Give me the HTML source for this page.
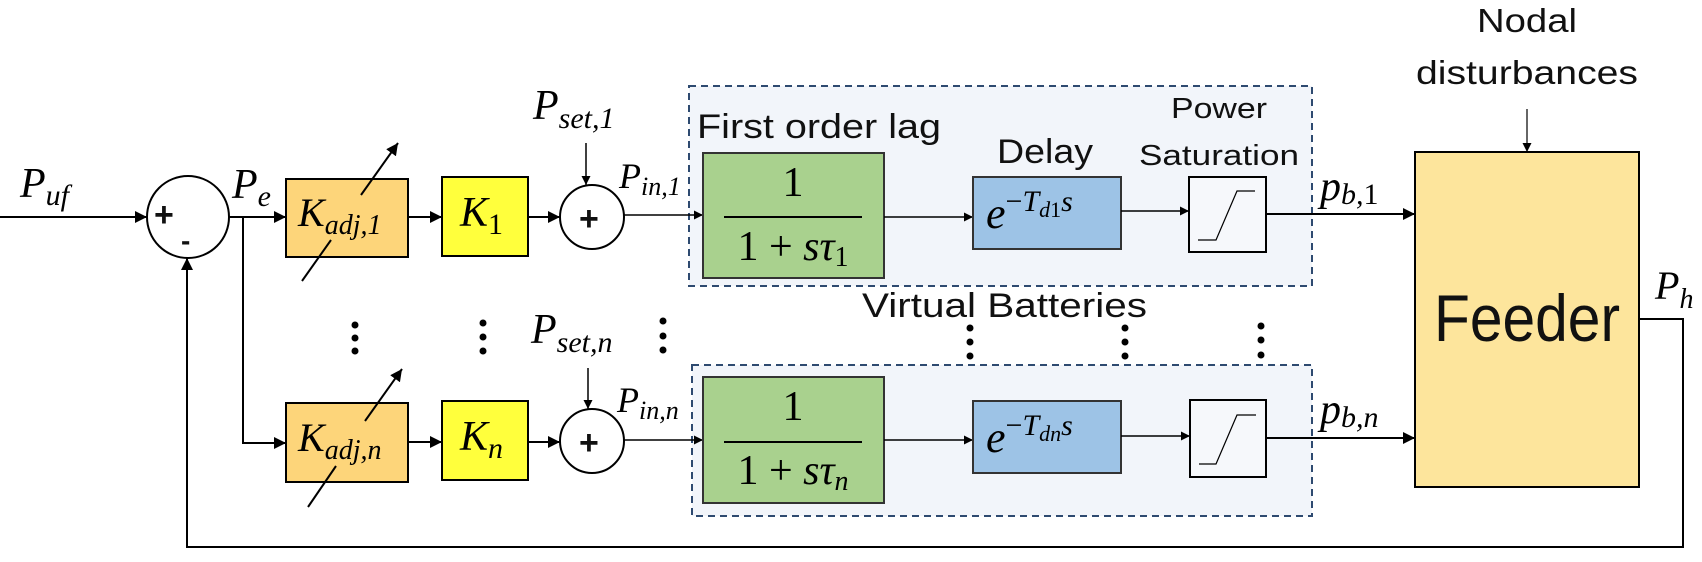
<!DOCTYPE html>
<html><head><meta charset="utf-8"><style>
html,body{margin:0;padding:0;background:#fff;}
svg{display:block;}
.m{font-family:"Liberation Serif",serif;font-style:italic;fill:#000;}
.t{font-family:"Liberation Sans",sans-serif;fill:#111;}
</style></head><body>
<svg width="1702" height="562" viewBox="0 0 1702 562" xmlns="http://www.w3.org/2000/svg">
<defs>
<marker id="a" viewBox="0 0 10 10" refX="10" refY="5" markerWidth="9" markerHeight="9" markerUnits="userSpaceOnUse" orient="auto"><path d="M0,0 L10,5 L0,10 z" fill="#000"/></marker>
<marker id="b" viewBox="0 0 10 10" refX="10" refY="5" markerWidth="12" markerHeight="12" markerUnits="userSpaceOnUse" orient="auto"><path d="M0,0 L10,5 L0,10 z" fill="#000"/></marker>
</defs>
<g stroke="#000" stroke-width="2" fill="none">
<rect x="689" y="86" width="623" height="200" fill="#f2f5fa" stroke="#2e4a70" stroke-dasharray="7,5"/>
<rect x="692" y="365" width="620" height="151" fill="#f2f5fa" stroke="#2e4a70" stroke-dasharray="7,5"/>
<line x1="0" y1="217" x2="147" y2="217" marker-end="url(#b)"/>
<ellipse cx="188" cy="217" rx="41" ry="41" fill="#fff"/>
<line x1="229" y1="217" x2="286" y2="217" marker-end="url(#b)"/>
<polyline points="243,217 243,443 286,443" marker-end="url(#b)"/>
<rect x="286" y="179" width="122" height="78" fill="#fdd57a"/>
<line x1="302" y1="281" x2="331" y2="240"/>
<line x1="361" y1="195" x2="398" y2="143" marker-end="url(#b)"/>
<line x1="408" y1="217" x2="442" y2="217" marker-end="url(#b)"/>
<rect x="442" y="177" width="86" height="79" fill="#ffff3c"/>
<line x1="528" y1="217" x2="560" y2="217" marker-end="url(#b)"/>
<circle cx="592" cy="217" r="32" fill="#fff"/>
<line x1="586" y1="143" x2="586" y2="185" stroke-width="1.5" marker-end="url(#a)"/>
<line x1="624" y1="215" x2="703" y2="215" stroke-width="1.5" marker-end="url(#a)"/>
<rect x="703" y="153" width="181" height="125" fill="#a9d18e" stroke="#333"/>
<line x1="724" y1="217" x2="862" y2="217"/>
<line x1="884" y1="217" x2="973" y2="217" stroke-width="1.5" marker-end="url(#a)"/>
<rect x="973" y="177" width="148" height="72" fill="#9dc3e6" stroke="#333"/>
<line x1="1121" y1="211" x2="1189" y2="211" stroke-width="1.5" marker-end="url(#a)"/>
<rect x="1189" y="177" width="77" height="75" fill="#f6f8fb"/>
<polyline points="1198,240 1216,240 1237,191 1255,191" stroke-width="1.2"/>
<line x1="1266" y1="214" x2="1415" y2="214" marker-end="url(#b)"/>
<rect x="286" y="403" width="122" height="79" fill="#fdd57a"/>
<line x1="308" y1="507" x2="336" y2="466"/>
<line x1="365" y1="421" x2="402" y2="369" marker-end="url(#b)"/>
<line x1="408" y1="442" x2="442" y2="442" marker-end="url(#b)"/>
<rect x="442" y="401" width="86" height="79" fill="#ffff3c"/>
<line x1="528" y1="442" x2="560" y2="442" marker-end="url(#b)"/>
<circle cx="592" cy="441" r="32" fill="#fff"/>
<line x1="588" y1="368" x2="588" y2="409" stroke-width="1.5" marker-end="url(#a)"/>
<line x1="624" y1="440" x2="703" y2="440" stroke-width="1.5" marker-end="url(#a)"/>
<rect x="703" y="377" width="181" height="126" fill="#a9d18e" stroke="#333"/>
<line x1="724" y1="442" x2="862" y2="442"/>
<line x1="884" y1="440" x2="973" y2="440" stroke-width="1.5" marker-end="url(#a)"/>
<rect x="973" y="401" width="148" height="72" fill="#9dc3e6" stroke="#333"/>
<line x1="1121" y1="436" x2="1190" y2="436" stroke-width="1.5" marker-end="url(#a)"/>
<rect x="1190" y="400" width="76" height="77" fill="#f6f8fb"/>
<polyline points="1199,464 1216,464 1237,415 1256,415" stroke-width="1.2"/>
<line x1="1266" y1="438" x2="1415" y2="438" marker-end="url(#b)"/>
<rect x="1415" y="152" width="224" height="335" fill="#fde59c"/>
<line x1="1527" y1="109" x2="1527" y2="152" stroke-width="1.2" marker-end="url(#a)"/>
<polyline points="1639,319 1683,319 1683,547 187,547 187,258" marker-end="url(#b)"/>
</g>
<g fill="#000">
<circle cx="355" cy="325" r="3.5"/><circle cx="355" cy="338" r="3.5"/><circle cx="355" cy="351" r="3.5"/>
<circle cx="483" cy="323" r="3.5"/><circle cx="483" cy="337" r="3.5"/><circle cx="483" cy="351" r="3.5"/>
<circle cx="663" cy="321" r="3.5"/><circle cx="663" cy="336" r="3.5"/><circle cx="663" cy="350" r="3.5"/>
<circle cx="970" cy="328" r="3.5"/><circle cx="970" cy="342" r="3.5"/><circle cx="970" cy="356" r="3.5"/>
<circle cx="1125" cy="328" r="3.5"/><circle cx="1125" cy="342" r="3.5"/><circle cx="1125" cy="356" r="3.5"/>
<circle cx="1261" cy="326" r="3.5"/><circle cx="1261" cy="340" r="3.5"/><circle cx="1261" cy="355" r="3.5"/>
</g>
<text class="t" x="154" y="226" font-size="34" font-weight="bold">+</text>
<text class="t" x="181" y="250" font-size="28" font-weight="bold">-</text>
<text class="t" x="579" y="230" font-size="34" font-weight="bold">+</text>
<text class="t" x="579" y="454" font-size="34" font-weight="bold">+</text>
<text class="m" x="20" y="197" font-size="42">P<tspan font-size="30" dy="8">uf</tspan></text>
<text class="m" x="232" y="198" font-size="42">P<tspan font-size="30" dy="8">e</tspan></text>
<text class="m" x="298" y="226" font-size="40">K<tspan font-size="28" dy="8">adj,1</tspan></text>
<text class="m" x="298" y="451" font-size="40">K<tspan font-size="28" dy="8">adj,n</tspan></text>
<text class="m" x="460" y="226" font-size="42">K<tspan font-size="30" dy="8" font-style="normal">1</tspan></text>
<text class="m" x="460" y="450" font-size="42">K<tspan font-size="30" dy="8">n</tspan></text>
<text class="m" x="533" y="119" font-size="42">P<tspan font-size="30" dy="9">set,1</tspan></text>
<text class="m" x="531" y="343" font-size="42">P<tspan font-size="30" dy="9">set,n</tspan></text>
<text class="m" x="619" y="188" font-size="36">P<tspan font-size="26" dy="7">in,1</tspan></text>
<text class="m" x="617" y="412" font-size="36">P<tspan font-size="26" dy="7">in,n</tspan></text>
<text class="t" x="697" y="138" font-size="34" textLength="244" lengthAdjust="spacingAndGlyphs">First order lag</text>
<text class="t" x="997" y="163" font-size="34" textLength="96" lengthAdjust="spacingAndGlyphs">Delay</text>
<text class="t" x="1219" y="118" font-size="29" text-anchor="middle" textLength="96" lengthAdjust="spacingAndGlyphs">Power</text>
<text class="t" x="1219" y="165" font-size="29" text-anchor="middle" textLength="160" lengthAdjust="spacingAndGlyphs">Saturation</text>
<text class="t" x="862" y="317" font-size="34" textLength="285" lengthAdjust="spacingAndGlyphs">Virtual Batteries</text>
<text class="t" x="1527" y="32" font-size="33" text-anchor="middle" textLength="100" lengthAdjust="spacingAndGlyphs">Nodal</text>
<text class="t" x="1527" y="84" font-size="33" text-anchor="middle" textLength="222" lengthAdjust="spacingAndGlyphs">disturbances</text>
<text class="t" x="1527" y="341" font-size="66" text-anchor="middle" textLength="186" lengthAdjust="spacingAndGlyphs">Feeder</text>
<text x="793" y="196" font-family="Liberation Serif,serif" font-size="42" text-anchor="middle">1</text>
<text x="793" y="260" font-family="Liberation Serif,serif" font-size="42" text-anchor="middle">1 + <tspan font-style="italic">sτ</tspan><tspan font-size="28" dy="6">1</tspan></text>
<text x="793" y="420" font-family="Liberation Serif,serif" font-size="42" text-anchor="middle">1</text>
<text x="793" y="484" font-family="Liberation Serif,serif" font-size="42" text-anchor="middle">1 + <tspan font-style="italic">sτ</tspan><tspan font-size="28" dy="6" font-style="italic">n</tspan></text>
<text class="m" x="986" y="228" font-size="44">e<tspan font-size="30" dy="-17" font-style="normal">−</tspan><tspan font-size="30">T</tspan><tspan font-size="22" dy="6">d</tspan><tspan font-size="22" font-style="normal">1</tspan><tspan font-size="30" dy="-6">s</tspan></text>
<text class="m" x="986" y="452" font-size="44">e<tspan font-size="30" dy="-17" font-style="normal">−</tspan><tspan font-size="30">T</tspan><tspan font-size="22" dy="6">dn</tspan><tspan font-size="30" dy="-6">s</tspan></text>
<text class="m" x="1320" y="200" font-size="42">p<tspan font-size="30" dy="4">b,</tspan><tspan font-size="30" font-style="normal">1</tspan></text>
<text class="m" x="1320" y="423" font-size="42">p<tspan font-size="30" dy="4">b,n</tspan></text>
<text class="m" x="1655" y="299" font-size="40">P<tspan font-size="28" dy="9">h</tspan></text>
</svg>
</body></html>
